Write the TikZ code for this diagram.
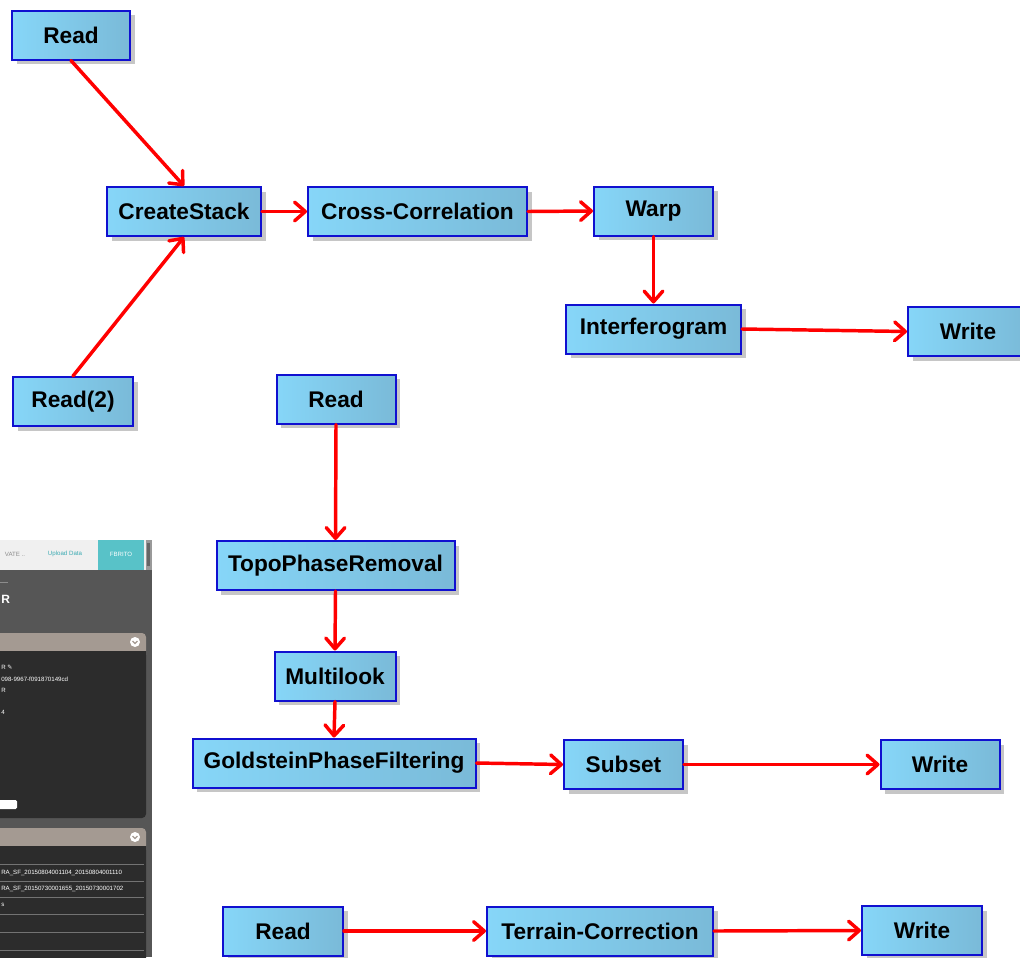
\documentclass[tikz,border=0pt]{standalone}
\usepackage{fontspec}
\setmainfont{Liberation Sans}
\newfontfamily\symfont{DejaVu Sans}
\usetikzlibrary{arrows.meta,shadows}
\definecolor{boxL}{RGB}{134,214,248}
\definecolor{boxR}{RGB}{122,186,216}
\definecolor{boxB}{RGB}{16,16,208}
\definecolor{panelbg}{RGB}{86,86,86}
\definecolor{paneldk}{RGB}{44,44,44}
\definecolor{panelhd}{RGB}{164,154,146}
\definecolor{teal}{RGB}{88,194,200}
\definecolor{tealtxt}{RGB}{58,170,178}
\tikzset{
  opbox/.style={draw=boxB, line width=1.5pt, left color=boxL, right color=boxR,
    minimum height=49*0.75pt, inner sep=0pt,
    font=\fontsize{17}{20}\selectfont\bfseries,
    drop shadow={shadow xshift=3.5pt, shadow yshift=-3.5pt, fill=black!28, opacity=0.8}},
  conn/.style={draw=red, line width=2.6pt, line cap=round,
    -{Straight Barb[length=8pt,width=14pt,round]}},
  tiny/.style={text=white, font=\fontsize{4.6}{5}\selectfont, anchor=west, inner sep=0pt},
  sep/.style={draw=black!55, line width=0.5pt}
}
\begin{document}
\begin{tikzpicture}[x=0.75pt,y=-0.75pt]
\useasboundingbox (0,0) rectangle (1020,957);

% ---------- screenshot fragment ----------
\fill[panelbg] (0,570) rectangle (152,957);
\fill[black!6] (0,540) rectangle (146,570);
\fill[black!40] (146,540) rectangle (152,570);
\fill[black!60] (147,543) rectangle (150,566);
\node[text=black!45, font=\fontsize{4.6}{5}\selectfont, inner sep=0pt] (t1) at (15,554) {VATE ..};
\node[text=tealtxt, font=\fontsize{4.6}{5}\selectfont, inner sep=0pt] (t2) at (65,554) {Upload Data};
\fill[teal] (98,540) rectangle (144,570);
\node[text=white, font=\fontsize{4.6}{5}\selectfont, inner sep=0pt] (t3) at (121,554) {FBRITO};
\draw[black!45, line width=0.6pt] (0,582) -- (8,582);
\node[text=white, font=\fontsize{9}{10}\selectfont\bfseries, anchor=west, inner sep=0pt] (t4) at (1,599) {R};
\fill[panelhd, rounded corners=3pt] (-5,633) rectangle (146,655);
\fill[paneldk, rounded corners=3pt] (-5,651) rectangle (146,818);
\fill[paneldk] (-5,651) rectangle (146,656);
\fill[white] (135,642) circle (5);
\draw[panelhd, line width=1pt] (132.5,641) -- (135,643.5) -- (137.5,641);
\node[tiny] (p1) at (1,667) {R {\symfont ✎}};
\node[tiny] (p2) at (1,679) {098-9967-f091870149cd};
\node[tiny] (p3) at (1,690) {R};
\node[tiny] (p4) at (1,712) {4};
\fill[white, rounded corners=1pt] (-3,800) rectangle (17,809);
\fill[panelhd, rounded corners=3pt] (-5,828) rectangle (146,850);
\fill[paneldk, rounded corners=3pt] (-5,846) rectangle (146,965);
\fill[paneldk] (-5,846) rectangle (146,851);
\fill[white] (135,837) circle (5);
\draw[panelhd, line width=1pt] (132.5,836) -- (135,838.5) -- (137.5,836);
\draw[sep] (0,864) -- (144,864);
\draw[sep] (0,881) -- (144,881);
\draw[sep] (0,897) -- (144,897);
\draw[sep] (0,914) -- (144,914);
\draw[sep] (0,932) -- (144,932);
\draw[sep] (0,950) -- (144,950);
\node[tiny] (q1) at (1,873) {RA\_SF\_20150804001104\_20150804001110};
\node[tiny] (q2) at (1,889) {RA\_SF\_20150730001655\_20150730001702};
\node[tiny] (q3) at (1,905) {s};

% ---------- graph 1 ----------
\node[opbox, minimum width=118*0.75pt] (read1) at (71,35) {Read};
\node[opbox, minimum width=154*0.75pt] (cs) at (184,211.5) {CreateStack};
\node[opbox, minimum width=120*0.75pt] (read2) at (73,401.5) {Read(2)};
\node[opbox, minimum width=219*0.75pt] (cc) at (417.5,211.5) {Cross-Correlation};
\node[opbox, minimum width=119*0.75pt] (warp) at (653.5,211) {Warp};
\node[opbox, minimum width=175*0.75pt] (intf) at (653.5,329) {Interferogram};
\node[opbox, minimum width=120*0.75pt] (write1) at (968,331.5) {Write};

\draw[conn] (read1.south) -- (cs.north);
\draw[conn] (read2.north) -- (cs.south);
\draw[conn] (cs.east) -- (cc.west);
\draw[conn] (cc.east) -- (warp.west);
\draw[conn] (warp.south) -- (intf.north);
\draw[conn] (intf.east) -- (write1.west);

% ---------- graph 2 ----------
\node[opbox, minimum width=119*0.75pt] (read3) at (336,399) {Read};
\node[opbox, minimum width=238*0.75pt] (topo) at (335.5,565.5) {TopoPhaseRemoval};
\node[opbox, minimum width=121*0.75pt] (ml) at (335,676) {Multilook};
\node[opbox, minimum width=283*0.75pt] (gold) at (334,763) {GoldsteinPhaseFiltering};
\node[opbox, minimum width=119*0.75pt] (subset) at (623.5,764.5) {Subset};
\node[opbox, minimum width=119*0.75pt] (write2) at (940,764.5) {Write};

\draw[conn] (read3.south) -- (topo.north);
\draw[conn] (topo.south) -- (ml.north);
\draw[conn] (ml.south) -- (gold.north);
\draw[conn] (gold.east) -- (subset.west);
\draw[conn] (subset.east) -- (write2.west);

% ---------- graph 3 ----------
\node[opbox, minimum width=120*0.75pt] (read4) at (283,931) {Read};
\node[opbox, minimum width=226*0.75pt] (tc) at (600,931) {Terrain-Correction};
\node[opbox, minimum width=120*0.75pt] (write3) at (922,930.5) {Write};

\draw[conn] (read4.east) -- (tc.west);
\draw[conn] (tc.east) -- (write3.west);
\end{tikzpicture}
\end{document}
